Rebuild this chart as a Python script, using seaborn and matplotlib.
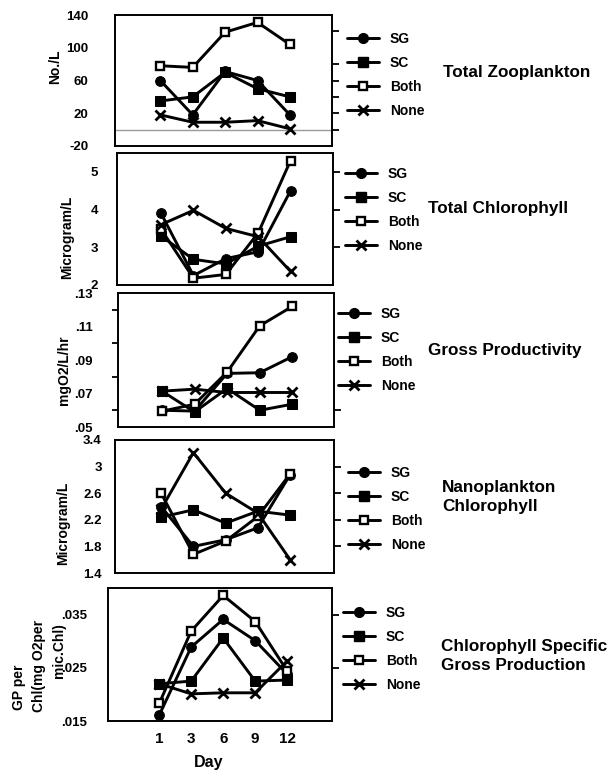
import matplotlib
matplotlib.use("Agg")
import matplotlib.pyplot as plt
import seaborn as sns
import pandas as pd
from matplotlib.lines import Line2D

sns.set_style("ticks")
plt.rcParams["font.family"] = ["Liberation Sans", "DejaVu Sans"]
plt.rcParams["font.weight"] = "bold"
plt.rcParams["text.color"] = "black"
plt.rcParams["axes.labelcolor"] = "black"
plt.rcParams["xtick.color"] = "black"
plt.rcParams["ytick.color"] = "black"

days = ["1", "3", "6", "9", "12"]
treatments = ["SG", "SC", "Both", "None"]

# Total zooplankton (No./L)
zoo_sg = [60, 18, 71, 60, 18]
zoo_sc = [35, 40, 70, 50, 40]
zoo_both = [78, 76, 119, 131, 104]
zoo_none = [18, 9, 9, 11, 1]

# Total chlorophyll (Microgram/L)
chl_sg = [3.9, 2.25, 2.7, 2.88, 4.5]
chl_sc = [3.3, 2.68, 2.56, 3.03, 3.28]
chl_both = [3.48, 2.18, 2.28, 3.38, 5.3]
chl_none = [3.6, 3.98, 3.5, 3.28, 2.36]

# Gross productivity (mgO2/L/hr)
gp_sg = [0.060, 0.0595, 0.082, 0.0824, 0.092]
gp_sc = [0.0714, 0.059, 0.073, 0.060, 0.0636]
gp_both = [0.0594, 0.0636, 0.0828, 0.1104, 0.122]
gp_none = [0.0714, 0.0726, 0.0706, 0.0706, 0.0706]

# Nanoplankton chlorophyll (Microgram/L)
nano_sg = [2.4, 1.8, 1.9, 2.08, 2.88]
nano_sc = [2.24, 2.35, 2.15, 2.33, 2.27]
nano_both = [2.6, 1.68, 1.88, 2.25, 2.89]
nano_none = [2.36, 3.21, 2.6, 2.3, 1.6]

# Chlorophyll specific gross production
cs_sg = [0.0161, 0.0289, 0.0341, 0.0301, 0.0238]
cs_sc = [0.022, 0.0225, 0.0306, 0.0225, 0.0227]
cs_both = [0.0183, 0.0319, 0.0386, 0.0337, 0.0244]
cs_none = [0.022, 0.0201, 0.0203, 0.0203, 0.0263]

W, H = 608, 775
fig = plt.figure(figsize=(W / 100, H / 100), dpi=100)

styles = {
    "SG": dict(marker="o", markersize=7, markerfacecolor="black", markeredgecolor="black"),
    "SC": dict(marker="s", markersize=7, markerfacecolor="black", markeredgecolor="black"),
    "Both": dict(marker="s", markersize=6, markerfacecolor="white", markeredgecolor="black", markeredgewidth=1.7),
    "None": dict(marker="x", markersize=7, markeredgecolor="black", markeredgewidth=2.0),
}


def px_axes(left, top, right, bottom):
    return fig.add_axes([left / W, 1 - bottom / H, (right - left) / W, (bottom - top) / H])


def fig_xy(x, y):
    return x / W, 1 - y / H


panels = [
    dict(box=(115, 15, 332, 146), xlim=(-1.4, 5.3), series=[zoo_sg, zoo_sc, zoo_both, zoo_none],
         ylim=(-20, 140), yticks=[-20, 20, 60, 100, 140], ylabels=["-20", "20", "60", "100", "140"],
         rticks=[0, 20, 40, 60, 80, 120], pad=19, ylabel=("No./L", 55, 67),
         leg=(347, 75), title=("Total Zooplankton", 443, 73)),
    dict(box=(117, 153, 333, 285), xlim=(-1.36, 5.31), series=[chl_sg, chl_sc, chl_both, chl_none],
         ylim=(2, 5.5), yticks=[2, 3, 4, 5], ylabels=["2", "3", "4", "5"],
         rticks=[3, 4, 5], pad=13.5, ylabel=("Microgram/L", 67, 237),
         leg=(345, 210), title=("Total Chlorophyll", 428, 208)),
    dict(box=(118, 293, 334, 427), xlim=(-1.35, 5.28), series=[gp_sg, gp_sc, gp_both, gp_none],
         ylim=(0.05, 0.13), yticks=[0.05, 0.07, 0.09, 0.11, 0.13],
         ylabels=[".05", ".07", ".09", ".11", ".13"], minor=[0.06, 0.08, 0.10, 0.12],
         rticks=[0.06], pad=18, ylabel=("mgO2/L/hr", 64, 370),
         leg=(338, 350), title=("Gross Productivity", 428, 351)),
    dict(box=(115, 440, 334, 573), xlim=(-1.43, 5.36), series=[nano_sg, nano_sc, nano_both, nano_none],
         ylim=(1.4, 3.4), yticks=[1.4, 1.8, 2.2, 2.6, 3.0, 3.4],
         ylabels=["1.4", "1.8", "2.2", "2.6", "3", "3.4"],
         rticks=[1.8, 2.2, 2.6, 3.0], pad=9.5, ylabel=("Microgram/L", 63, 523),
         leg=(348, 509), title=("Nanoplankton\nChlorophyll", 442, 497)),
    dict(box=(108, 588, 332, 721), xlim=(-1.6, 5.4), series=[cs_sg, cs_sc, cs_both, cs_none],
         ylim=(0.015, 0.040), yticks=[0.015, 0.025, 0.035], ylabels=[".015", ".025", ".035"],
         rticks=[0.025, 0.035], pad=15, ylabel=None,
         leg=(343, 649), title=("Chlorophyll Specific\nGross Production", 441, 656)),
]

for i, p in enumerate(panels):
    ax = px_axes(*p["box"])
    for name, vals in zip(treatments, p["series"]):
        df = pd.DataFrame({"pos": range(len(days)), "value": vals})
        sns.lineplot(data=df, x="pos", y="value", ax=ax, color="black", linewidth=2.1,
                     **styles[name], label=name, legend=False)
    if i == 0:
        ax.axhline(0, color="#9a9a9a", linewidth=1.0, zorder=0)
    ax.set_xlim(*p["xlim"])
    ax.set_ylim(*p["ylim"])
    ax.set_xlabel("")
    ax.set_ylabel("")
    ax.set_yticks(p["yticks"])
    ax.set_yticklabels(p["ylabels"], fontsize=9.5, fontweight="bold")
    ax.tick_params(axis="y", which="major", left=True, length=0, pad=p["pad"])
    if "minor" in p:
        ax.set_yticks(p["minor"], minor=True)
        ax.tick_params(axis="y", which="minor", left=True, right=False, length=4, width=1.3,
                       direction="out")
    # right-hand tick marks drawn on a twin axis sharing the same scale
    rax = ax.twinx()
    rax.set_ylim(*p["ylim"])
    rax.set_yticks(p["rticks"])
    rax.tick_params(axis="y", right=True, labelright=False, length=5, width=1.3, direction="out")
    for s in rax.spines.values():
        s.set_visible(False)
    for s in ax.spines.values():
        s.set_visible(True)
        s.set_linewidth(1.4)
        s.set_color("black")
    if i < 4:
        ax.set_xticks([])
    else:
        ax.set_xticks(range(len(days)))
        ax.set_xticklabels(days, fontsize=11, fontweight="bold")
        ax.tick_params(axis="x", length=0, pad=8)

    if p["ylabel"]:
        txt, x, y = p["ylabel"]
        fig.text(*fig_xy(x, y), txt, rotation=90, ha="center", va="center",
                 fontsize=10, fontweight="bold")

    handles = [Line2D([], [], color="black", linewidth=2.1, **styles[n]) for n in treatments]
    ax.legend(handles, treatments, loc="center left",
              bbox_to_anchor=fig_xy(*p["leg"]), bbox_transform=fig.transFigure,
              frameon=False, borderpad=0, borderaxespad=0, handlelength=2.3,
              handletextpad=0.8, labelspacing=0.72,
              prop=dict(size=10, weight="bold"))

    t, x, y = p["title"]
    fig.text(*fig_xy(x, y), t, ha="left", va="center", fontsize=12.3,
             fontweight="bold", linespacing=1.25)

# multi-line y label of the bottom panel
for txt, x, y in [("GP per", 19, 687), ("Chl(mg O2per", 39, 666), ("mic.Chl)", 59, 651)]:
    fig.text(*fig_xy(x, y), txt, rotation=90, ha="center", va="center",
             fontsize=10, fontweight="bold")

fig.text(*fig_xy(209, 763), "Day", ha="center", va="center", fontsize=11.5, fontweight="bold")

fig.savefig("out.png", dpi=100)
